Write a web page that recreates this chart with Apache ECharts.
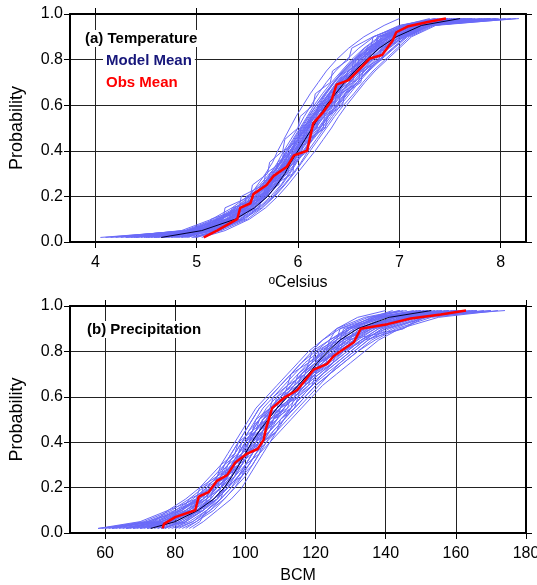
<!DOCTYPE html>
<html><head><meta charset="utf-8">
<script src="https://cdn.jsdelivr.net/npm/echarts@6/dist/echarts.min.js"></script>
<style>html,body{margin:0;padding:0;background:#fff}#c{width:537px;height:585px}</style>
</head><body><div id="c"></div>
<script>
// ---------------- DATA ----------------
const probLevels = [0.02,0.05,0.10,0.15,0.20,0.25,0.30,0.35,0.40,0.45,0.50,0.55,0.60,0.65,0.70,0.75,0.80,0.85,0.90,0.95,0.98];
const probTicks = [0, 0.2, 0.4, 0.6, 0.8, 1.0];
const tempTicks = [4, 5, 6, 7, 8];
const precipTicks = [60, 80, 100, 120, 140, 160, 180];

// Temperature: model ensemble members (x at each probability level)
const tempMembers = [
 [4.05,4.95,5.30,5.50,5.62,5.72,5.80,5.86,5.93,6.00,6.06,6.12,6.20,6.27,6.36,6.45,6.55,6.68,6.85,7.10,7.50],
 [4.30,5.00,5.25,5.45,5.58,5.66,5.75,5.84,5.90,5.98,6.05,6.13,6.22,6.30,6.40,6.50,6.62,6.75,6.90,7.15,7.70],
 [4.55,5.10,5.40,5.55,5.70,5.80,5.88,5.95,6.02,6.10,6.18,6.25,6.33,6.42,6.50,6.60,6.72,6.85,7.00,7.25,7.90],
 [4.80,5.15,5.45,5.62,5.75,5.84,5.92,5.99,6.07,6.14,6.22,6.30,6.38,6.47,6.56,6.66,6.78,6.90,7.05,7.30,8.18],
 [4.40,4.90,5.20,5.40,5.55,5.65,5.73,5.80,5.86,5.93,6.00,6.06,6.13,6.20,6.28,6.37,6.48,6.60,6.75,7.00,7.35],
 [4.70,5.05,5.35,5.52,5.64,5.76,5.83,5.90,5.97,6.05,6.12,6.18,6.25,6.34,6.44,6.54,6.64,6.78,6.95,7.20,7.62],
 [4.95,5.20,5.48,5.60,5.68,5.78,5.86,5.94,6.03,6.11,6.20,6.28,6.35,6.44,6.54,6.63,6.74,6.88,7.03,7.28,7.85],
 [4.60,5.00,5.32,5.48,5.60,5.70,5.79,5.88,5.96,6.03,6.10,6.16,6.24,6.32,6.41,6.52,6.64,6.77,6.92,7.18,7.55],
 [4.20,4.85,5.15,5.35,5.50,5.62,5.72,5.82,5.90,5.97,6.04,6.11,6.18,6.27,6.35,6.44,6.55,6.66,6.82,7.05,7.40],
 [4.85,5.12,5.42,5.58,5.70,5.79,5.86,5.92,5.98,6.04,6.10,6.16,6.24,6.33,6.42,6.52,6.62,6.74,6.88,7.12,7.80],
 [4.50,5.08,5.38,5.56,5.68,5.77,5.84,5.91,5.99,6.08,6.16,6.24,6.31,6.39,6.48,6.58,6.70,6.83,6.98,7.22,7.65],
 [4.75,5.18,5.46,5.64,5.76,5.86,5.95,6.03,6.10,6.18,6.26,6.34,6.42,6.51,6.60,6.70,6.82,6.95,7.08,7.32,8.05],
 [4.35,4.98,5.28,5.46,5.58,5.69,5.78,5.85,5.92,5.99,6.06,6.14,6.21,6.28,6.36,6.46,6.57,6.70,6.86,7.08,7.45],
 [5.00,5.22,5.44,5.56,5.66,5.74,5.81,5.87,5.94,6.01,6.08,6.15,6.23,6.31,6.39,6.48,6.59,6.71,6.87,7.14,7.72],
 [4.65,5.02,5.30,5.47,5.61,5.71,5.80,5.89,5.97,6.06,6.14,6.22,6.29,6.38,6.47,6.57,6.67,6.80,6.96,7.19,7.58],
 [4.45,4.95,5.24,5.42,5.57,5.68,5.76,5.83,5.88,5.95,6.02,6.09,6.16,6.24,6.33,6.43,6.53,6.65,6.80,7.03,7.30],
 [4.90,5.16,5.40,5.55,5.67,5.77,5.87,5.96,6.05,6.13,6.21,6.29,6.37,6.46,6.55,6.65,6.76,6.89,7.04,7.26,7.95],
 [4.25,4.92,5.22,5.44,5.59,5.70,5.78,5.86,5.94,6.02,6.09,6.17,6.26,6.35,6.44,6.55,6.66,6.79,6.94,7.16,7.52],
 [4.78,5.10,5.36,5.53,5.66,5.75,5.85,5.93,6.01,6.09,6.17,6.26,6.34,6.43,6.52,6.61,6.71,6.84,7.00,7.24,7.68],
 [4.58,5.04,5.34,5.50,5.63,5.74,5.82,5.90,5.98,6.06,6.13,6.20,6.27,6.36,6.45,6.55,6.65,6.76,6.91,7.13,7.48],
 [4.88,5.14,5.43,5.61,5.73,5.83,5.91,5.98,6.06,6.15,6.24,6.32,6.40,6.49,6.58,6.68,6.80,6.93,7.07,7.30,7.88],
 [4.15,4.88,5.18,5.38,5.52,5.64,5.74,5.83,5.92,6.00,6.08,6.15,6.22,6.30,6.38,6.47,6.58,6.72,6.88,7.10,7.42],
 [4.68,5.06,5.33,5.49,5.62,5.73,5.83,5.91,5.99,6.07,6.15,6.23,6.32,6.41,6.51,6.62,6.73,6.86,7.01,7.23,7.75],
 [4.82,5.13,5.39,5.54,5.65,5.73,5.80,5.86,5.93,6.00,6.07,6.14,6.22,6.31,6.40,6.50,6.61,6.73,6.89,7.11,7.60],
 [4.52,4.99,5.29,5.51,5.66,5.78,5.89,5.98,6.06,6.14,6.22,6.30,6.39,6.48,6.58,6.69,6.81,6.94,7.06,7.28,8.10],
 [4.62,5.03,5.31,5.46,5.57,5.67,5.75,5.82,5.89,5.96,6.03,6.10,6.18,6.26,6.35,6.45,6.56,6.69,6.84,7.06,7.38],
 [4.98,5.24,5.50,5.65,5.77,5.87,5.96,6.04,6.12,6.20,6.28,6.36,6.45,6.55,6.64,6.74,6.86,6.98,7.10,7.34,7.98],
 [4.72,5.07,5.37,5.53,5.64,5.72,5.81,5.89,5.96,6.04,6.11,6.19,6.28,6.37,6.46,6.56,6.68,6.81,6.97,7.21,7.66],
 [4.40,4.95,5.22,5.40,5.52,5.60,5.68,5.75,5.80,5.86,5.92,5.98,6.05,6.12,6.20,6.28,6.38,6.50,6.65,6.85,7.00],
 [5.05,5.28,5.52,5.68,5.80,5.90,5.99,6.08,6.17,6.25,6.33,6.40,6.48,6.57,6.66,6.76,6.88,7.00,7.12,7.36,8.15],
 [4.48,5.02,5.20,5.58,5.60,5.81,5.83,5.97,5.98,6.12,6.13,6.26,6.27,6.41,6.43,6.58,6.60,6.79,6.82,7.15,7.58],
 [4.75,4.98,5.41,5.43,5.66,5.68,5.85,5.87,6.01,6.02,6.18,6.20,6.33,6.35,6.51,6.53,6.70,6.73,6.93,7.20,7.72],
 [4.30,5.12,5.14,5.47,5.49,5.70,5.72,5.90,5.92,6.05,6.07,6.22,6.24,6.38,6.40,6.55,6.57,6.76,6.78,7.10,7.48],
 [4.92,5.05,5.30,5.62,5.64,5.76,5.95,5.96,6.10,6.11,6.25,6.26,6.40,6.42,6.60,6.61,6.80,6.82,7.02,7.26,7.82],
 [4.58,4.96,5.35,5.37,5.61,5.63,5.78,5.80,5.95,5.97,6.11,6.13,6.29,6.31,6.47,6.49,6.66,6.68,6.90,7.14,7.55],
 [4.10,4.90,5.26,5.28,5.53,5.55,5.70,5.72,5.85,5.87,6.00,6.02,6.15,6.17,6.32,6.34,6.50,6.53,6.74,7.02,7.36],
 [4.85,5.17,5.19,5.50,5.52,5.74,5.76,5.93,5.94,6.08,6.09,6.23,6.24,6.39,6.41,6.58,6.60,6.77,6.79,7.18,7.90],
 [4.66,5.09,5.33,5.35,5.70,5.71,5.88,5.89,6.04,6.05,6.19,6.20,6.36,6.38,6.54,6.56,6.74,6.76,6.96,7.22,7.64],
 [4.38,4.93,5.24,5.42,5.44,5.66,5.68,5.84,5.86,6.01,6.03,6.18,6.20,6.36,6.38,6.53,6.55,6.72,6.74,7.06,7.44],
 [4.96,5.21,5.46,5.48,5.69,5.71,5.90,5.92,6.08,6.10,6.27,6.29,6.44,6.46,6.62,6.64,6.83,6.85,7.05,7.31,7.96]
];
const tempModelMean = [4.65,5.05,5.38,5.57,5.70,5.79,5.87,5.93,6.00,6.07,6.14,6.21,6.28,6.37,6.46,6.56,6.68,6.80,6.97,7.22,7.60];
const tempObsX = [5.07,5.20,5.40,5.43,5.53,5.56,5.69,5.76,5.89,5.96,6.09,6.12,6.15,6.24,6.33,6.38,6.50,6.60,6.71,6.83,6.93,6.97,7.08,7.28,7.46];
const tempObsP = [0.02,0.05,0.10,0.15,0.17,0.21,0.25,0.29,0.33,0.38,0.40,0.46,0.52,0.565,0.62,0.69,0.71,0.755,0.805,0.82,0.88,0.92,0.945,0.965,0.98];

// Precipitation: model ensemble members
const precipMembers = [
 [58,70,78,83,87,90,93,95,97,99,101,103,106,109,112,115,118,122,127,135,146],
 [62,74,82,87,91,94,96,98,100,102,104,107,110,113,116,119,123,127,132,140,152],
 [66,76,84,89,92,95,97,99,101,104,106,109,112,115,118,121,124,128,133,142,158],
 [70,78,85,90,93,96,98,100,103,105,108,111,114,117,120,123,127,131,136,145,165],
 [74,80,86,91,94,97,99,101,103,106,109,112,115,118,122,126,130,134,139,148,174],
 [78,83,88,92,95,98,100,102,105,107,110,113,116,119,123,127,131,135,141,150,168],
 [60,72,80,85,89,92,95,97,99,101,103,105,108,111,114,117,121,125,130,137,148],
 [64,75,83,88,92,95,98,100,102,104,107,110,113,116,120,124,128,133,140,152,162],
 [68,77,84,88,91,93,95,97,99,101,104,107,110,113,116,120,124,128,134,143,155],
 [72,79,86,91,95,98,101,103,105,107,109,111,113,116,119,122,126,130,135,144,156],
 [76,82,87,90,93,95,97,99,101,103,105,108,111,114,117,120,123,126,130,138,150],
 [80,85,90,93,96,99,102,104,106,108,111,114,117,120,124,128,132,137,143,153,170],
 [63,73,81,86,90,93,96,99,101,103,105,107,110,113,116,119,122,125,129,136,142],
 [67,76,83,87,90,94,97,100,102,104,106,109,112,115,119,123,128,134,145,151,160],
 [71,78,85,89,92,95,97,99,101,103,106,108,111,114,118,121,125,129,134,142,154],
 [75,81,87,92,95,97,99,101,104,106,108,111,114,117,121,125,128,132,137,146,163],
 [79,84,89,93,96,98,100,102,104,107,110,113,116,119,122,125,129,133,138,147,158],
 [83,86,91,94,97,99,101,103,106,109,112,115,118,121,124,127,131,135,140,149,166],
 [65,75,82,86,89,92,94,96,98,100,102,104,107,110,113,116,119,122,126,132,140],
 [69,78,86,90,93,96,99,101,103,105,108,110,113,116,119,122,126,130,136,146,161],
 [73,79,84,88,91,94,97,100,102,105,107,110,113,116,119,123,127,131,137,147,157],
 [77,82,88,92,94,96,98,100,102,104,106,109,112,115,118,122,125,129,134,143,153],
 [81,85,89,92,95,98,101,103,105,108,111,114,117,120,124,128,132,136,142,151,164],
 [85,88,92,96,99,101,103,105,107,109,111,113,116,119,122,126,130,134,139,148,159],
 [61,73,81,87,91,94,96,98,100,102,104,106,109,112,115,118,122,126,131,139,151],
 [66,76,84,88,91,94,96,98,100,103,105,108,111,114,117,120,124,129,145,150,154],
 [72,80,86,90,93,95,98,100,102,104,107,110,113,115,118,121,124,127,131,137,144],
 [76,83,88,91,94,97,100,102,104,106,108,111,114,117,121,125,129,133,138,147,160],
 [82,86,90,94,97,100,102,104,107,110,113,116,119,122,126,130,134,138,144,155,172],
 [59,71,79,84,88,91,94,96,98,100,102,104,107,110,113,116,120,124,129,136,145],
 [62,72,82,84,91,92,97,98,101,102,106,107,111,112,117,118,123,124,130,138,150],
 [70,79,83,89,90,95,96,100,101,105,106,110,111,116,117,121,122,128,129,140,156],
 [75,78,88,89,93,94,99,100,104,105,109,110,115,116,120,121,127,128,136,146,162],
 [66,75,80,87,88,93,94,98,99,103,104,108,109,114,115,119,120,126,127,137,149],
 [80,83,86,92,93,97,98,102,103,107,108,113,114,118,119,124,125,131,132,145,166],
 [58,74,78,86,87,92,93,97,98,102,103,107,108,112,113,118,119,124,126,134,144],
 [72,76,85,86,92,93,98,99,103,104,108,109,114,115,120,121,126,127,135,147,158],
 [84,87,89,93,94,99,100,104,105,109,110,114,115,119,120,125,126,132,133,146,170],
 [68,78,81,88,89,94,95,99,100,104,105,109,110,115,116,120,121,127,128,139,152],
 [77,81,87,90,91,96,97,101,102,106,107,112,113,117,118,123,124,130,131,143,160]
];
const precipModelMean = [73,80,86.5,91,94,96.2,98.2,100,101.8,104,106.5,109,112,115,118,120.5,123.5,127,132,141,153];
const precipObsX = [76.4,76.8,80,85.7,86.7,89.5,91.9,94.8,97.1,100.5,103.5,105.2,105.8,107.6,111,114.8,119.5,123.3,125.2,130.9,132.9,140.5,147.1,155.7,162.9];
const precipObsP = [0.02,0.04,0.07,0.10,0.16,0.18,0.23,0.255,0.31,0.35,0.37,0.41,0.455,0.55,0.595,0.63,0.72,0.745,0.78,0.84,0.90,0.92,0.945,0.963,0.98];

// ---------------- CHART ----------------
const FONT = "'Liberation Sans', Arial, sans-serif";
const BLUE = 'rgb(106,106,248)';

function xAx(grid, min, max, ticks, pos, name, gap) {
  const bottom = pos === 'bottom';
  return {
    gridIndex: grid, type: 'value', min: min, max: max, position: pos,
    name: bottom ? name : '', nameLocation: 'middle', nameGap: gap,
    nameTextStyle: {fontSize: 16, color: '#000', fontFamily: FONT,
      rich: {s: {fontSize: 12, color: '#000', fontFamily: FONT, verticalAlign: 'top'}}},
    axisLine: {show: true, onZero: false, lineStyle: {color: '#000', width: 2}},
    axisTick: {show: true, customValues: ticks, length: 6, lineStyle: {color: '#000', width: 1}},
    axisLabel: {show: bottom, customValues: ticks, fontSize: 16, color: '#000', fontFamily: FONT, margin: 13},
    splitLine: {show: bottom, lineStyle: {color: '#222', width: 1}}
  };
}
function yAx(grid, pos) {
  const left = pos === 'left';
  return {
    gridIndex: grid, type: 'value', min: 0, max: 1, interval: 0.2, position: pos,
    name: left ? 'Probability' : '', nameLocation: 'middle', nameGap: 44,
    nameTextStyle: {fontSize: 18, color: '#000', fontFamily: FONT},
    axisLine: {show: true, onZero: false, lineStyle: {color: '#000', width: 2}},
    axisTick: {show: true, length: 6, lineStyle: {color: '#000', width: 1}},
    axisLabel: {show: left, fontSize: 16, color: '#000', fontFamily: FONT, margin: 7,
      formatter: v => v.toFixed(1)},
    splitLine: {show: left, lineStyle: {color: '#222', width: 1}}
  };
}

const series = [];
function addPanel(members, mean, obsX, obsP, xi, yi) {
  members.forEach(m => series.push({
    type: 'line', xAxisIndex: xi, yAxisIndex: yi, silent: true, showSymbol: false, z: 2,
    data: m.map((x, i) => [x, probLevels[i]]),
    lineStyle: {color: BLUE, width: 1}
  }));
  series.push({
    type: 'line', xAxisIndex: xi, yAxisIndex: yi, silent: true, showSymbol: false, z: 3,
    data: mean.map((x, i) => [x, probLevels[i]]),
    lineStyle: {color: '#000033', width: 1}
  });
  series.push({
    type: 'line', xAxisIndex: xi, yAxisIndex: yi, silent: true, showSymbol: false, z: 4,
    data: obsX.map((x, i) => [x, obsP[i]]),
    lineStyle: {color: '#ff0000', width: 2.5}
  });
}
addPanel(tempMembers, tempModelMean, tempObsX, tempObsP, 0, 0);
addPanel(precipMembers, precipModelMean, precipObsX, precipObsP, 2, 2);

const titleBase = {backgroundColor: '#fff', padding: [1, 3], z: 10};
const option = {
  animation: false,
  backgroundColor: '#fff',
  grid: [
    {left: 70, top: 14, width: 456, height: 228, outerBoundsMode: 'none', containLabel: false},
    {left: 70, top: 306, width: 456, height: 227, outerBoundsMode: 'none', containLabel: false}
  ],
  xAxis: [
    xAx(0, 3.75, 8.25, tempTicks, 'bottom', '{s|o}Celsius', 33),
    xAx(0, 3.75, 8.25, tempTicks, 'top', '', 0),
    xAx(1, 50, 180, precipTicks, 'bottom', 'BCM', 35),
    xAx(1, 50, 180, precipTicks, 'top', '', 0)
  ],
  yAxis: [yAx(0, 'left'), yAx(0, 'right'), yAx(1, 'left'), yAx(1, 'right')],
  title: [
    Object.assign({text: '(a) Temperature', left: 82, top: 30,
      textStyle: {fontSize: 15, fontWeight: 'bold', color: '#000', fontFamily: FONT}}, titleBase),
    Object.assign({text: 'Model Mean', left: 103, top: 52,
      textStyle: {fontSize: 15, fontWeight: 'bold', color: '#16167a', fontFamily: FONT}}, titleBase),
    Object.assign({text: 'Obs Mean', left: 103, top: 74,
      textStyle: {fontSize: 15, fontWeight: 'bold', color: '#ff0000', fontFamily: FONT}}, titleBase),
    Object.assign({text: '(b) Precipitation', left: 84, top: 321,
      textStyle: {fontSize: 15, fontWeight: 'bold', color: '#000', fontFamily: FONT}}, titleBase)
  ],
  series: series
};
const chart = echarts.init(document.getElementById('c'), null, {renderer: 'canvas'});
chart.setOption(option);
</script>
</body></html>
